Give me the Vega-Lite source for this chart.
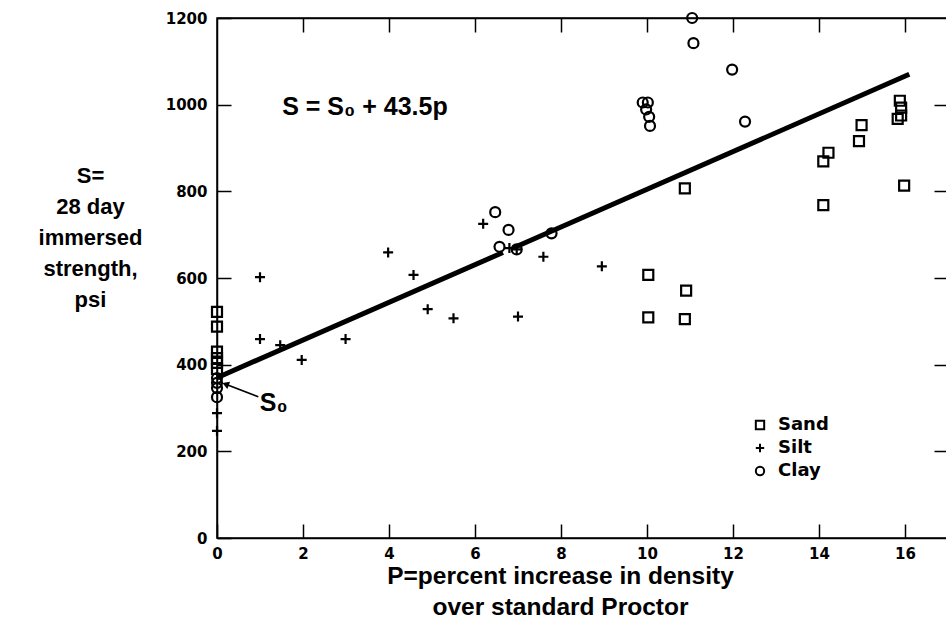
{
  "$schema": "https://vega.github.io/schema/vega-lite/v6.json",
  "width": 731,
  "height": 520,
  "autosize": {"type": "none"},
  "padding": {"left": 217, "top": 18, "right": 0, "bottom": 99},
  "background": "white",
  "config": {
    "view": {"stroke": "black", "strokeWidth": 1.5},
    "font": "Liberation Sans",
    "axis": {"grid": false, "domainColor": "black", "tickColor": "black", "domainWidth": 1.5, "tickWidth": 1.5, "labelColor": "black", "titleColor": "black"}
  },
  "datasets": {
    "pts": [
      {"p": 0, "s": 522, "type": "Sand"},
      {"p": 0, "s": 488, "type": "Sand"},
      {"p": 0, "s": 430, "type": "Sand"},
      {"p": 0, "s": 415, "type": "Sand"},
      {"p": 0, "s": 404, "type": "Sand"},
      {"p": 0, "s": 390, "type": "Sand"},
      {"p": 10.03, "s": 607, "type": "Sand"},
      {"p": 10.91, "s": 571, "type": "Sand"},
      {"p": 10.03, "s": 509, "type": "Sand"},
      {"p": 10.88, "s": 505, "type": "Sand"},
      {"p": 10.88, "s": 807, "type": "Sand"},
      {"p": 14.1, "s": 869, "type": "Sand"},
      {"p": 14.22, "s": 889, "type": "Sand"},
      {"p": 14.99, "s": 953, "type": "Sand"},
      {"p": 14.93, "s": 916, "type": "Sand"},
      {"p": 14.1, "s": 768, "type": "Sand"},
      {"p": 15.98, "s": 813, "type": "Sand"},
      {"p": 15.88, "s": 1009, "type": "Sand"},
      {"p": 15.91, "s": 993, "type": "Sand"},
      {"p": 15.91, "s": 975, "type": "Sand"},
      {"p": 15.83, "s": 967, "type": "Sand"},
      {"p": 0, "s": 288, "type": "Silt"},
      {"p": 0, "s": 247, "type": "Silt"},
      {"p": 1.0, "s": 602, "type": "Silt"},
      {"p": 1.0, "s": 459, "type": "Silt"},
      {"p": 1.47, "s": 445, "type": "Silt"},
      {"p": 1.97, "s": 411, "type": "Silt"},
      {"p": 2.99, "s": 459, "type": "Silt"},
      {"p": 3.98, "s": 659, "type": "Silt"},
      {"p": 4.57, "s": 607, "type": "Silt"},
      {"p": 4.9, "s": 528, "type": "Silt"},
      {"p": 5.5, "s": 507, "type": "Silt"},
      {"p": 6.19, "s": 725, "type": "Silt"},
      {"p": 6.8, "s": 669, "type": "Silt"},
      {"p": 6.97, "s": 666, "type": "Silt"},
      {"p": 7.0, "s": 511, "type": "Silt"},
      {"p": 7.59, "s": 649, "type": "Silt"},
      {"p": 8.95, "s": 627, "type": "Silt"},
      {"p": 0, "s": 369, "type": "Clay"},
      {"p": 0, "s": 358, "type": "Clay"},
      {"p": 0, "s": 346, "type": "Clay"},
      {"p": 0, "s": 325, "type": "Clay"},
      {"p": 6.47, "s": 752, "type": "Clay"},
      {"p": 6.78, "s": 711, "type": "Clay"},
      {"p": 6.57, "s": 672, "type": "Clay"},
      {"p": 6.97, "s": 666, "type": "Clay"},
      {"p": 7.78, "s": 703, "type": "Clay"},
      {"p": 9.9, "s": 1005, "type": "Clay"},
      {"p": 10.02, "s": 1005, "type": "Clay"},
      {"p": 9.98, "s": 989, "type": "Clay"},
      {"p": 10.05, "s": 972, "type": "Clay"},
      {"p": 10.07, "s": 951, "type": "Clay"},
      {"p": 11.05, "s": 1200, "type": "Clay"},
      {"p": 11.08, "s": 1142, "type": "Clay"},
      {"p": 11.98, "s": 1081, "type": "Clay"},
      {"p": 12.28, "s": 961, "type": "Clay"}
    ],
    "fit": [
      {"p": 0, "s": 370, "seg": "a"},
      {"p": 6.65, "s": 659, "seg": "a"},
      {"p": 6.9, "s": 670, "seg": "b"},
      {"p": 16.1, "s": 1070, "seg": "b"}
    ],
    "arrow": [
      {"p": 0.96, "s": 326},
      {"p": 0.25, "s": 353}
    ],
    "head": [
      {"p": 0.2, "s": 355}
    ],
    "labels": [
      {"p": 3.44, "s": 995, "label": "S = S₀ + 43.5p"},
      {"p": 1.32, "s": 312, "label": "S₀"}
    ]
  },
  "layer": [
    {
      "data": {"name": "fit"},
      "mark": {"type": "line", "color": "black", "strokeWidth": 5, "strokeCap": "butt"},
      "encoding": {
        "x": {"field": "p", "type": "quantitative", "scale": {"domain": [0, 17], "nice": false, "zero": false},
              "axis": {"orient": "top", "values": [2, 4, 6, 8, 10, 12, 14, 16], "labels": false, "tickSize": -14, "title": null}},
        "y": {"field": "s", "type": "quantitative", "scale": {"domain": [0, 1200], "nice": false},
              "axis": {"orient": "right", "values": [200, 400, 600, 800, 1000], "labels": false, "tickSize": -14, "title": null}},
        "detail": {"field": "seg"}
      }
    },
    {
      "data": {"name": "pts"},
      "mark": {"type": "point", "filled": false, "strokeWidth": 2.2, "color": "black", "opacity": 1, "size": 100},
      "encoding": {
        "x": {"field": "p", "type": "quantitative", "scale": {"domain": [0, 17], "nice": false, "zero": false},
              "axis": {"values": [0, 2, 4, 6, 8, 10, 12, 14, 16], "format": "d", "tickSize": -14, "labelPadding": 22, "labelFlush": false, "labelFontSize": 15, "labelFont": "DejaVu Sans", "labelFontWeight": "bold",
                       "title": ["P=percent increase in density", "over standard Proctor"], "titleFontSize": 24.5, "titleFontWeight": "bold",
                       "titleX": 343, "titleY": 26, "titleBaseline": "top", "titleAlign": "center", "titleLineHeight": 31}},
        "y": {"field": "s", "type": "quantitative", "scale": {"domain": [0, 1200], "nice": false},
              "axis": {"values": [0, 200, 400, 600, 800, 1000, 1200], "format": "d", "tickSize": -14, "labelPadding": 24, "labelFlush": false, "labelFontSize": 15, "labelFont": "DejaVu Sans", "labelFontWeight": "bold",
                       "title": ["S=", "28 day", "immersed", "strength,", "psi"], "titleFontSize": 22, "titleFontWeight": "bold", "titleAngle": 0,
                       "titleX": -127, "titleY": 147, "titleBaseline": "top", "titleAlign": "center", "titleLineHeight": 31}},
        "shape": {"field": "type", "type": "nominal",
                  "scale": {"domain": ["Sand", "Silt", "Clay"], "range": ["square", "M-1,0H1M0,-1V1", "circle"]},
                  "legend": {"title": null, "orient": "none", "legendX": 534, "legendY": 398, "labelFontSize": 18, "labelFont": "DejaVu Sans", "labelFontWeight": "bold",
                             "labelColor": "black", "symbolStrokeColor": "black", "symbolStrokeWidth": 2, "symbolSize": 70, "symbolFillColor": "transparent",
                             "rowPadding": 5, "labelOffset": 9}}
      }
    },
    {
      "data": {"name": "arrow"},
      "mark": {"type": "line", "color": "black", "strokeWidth": 1.8},
      "encoding": {
        "x": {"field": "p", "type": "quantitative", "axis": null},
        "y": {"field": "s", "type": "quantitative", "axis": null}
      }
    },
    {
      "data": {"name": "head"},
      "mark": {"type": "point", "shape": "triangle-up", "filled": true, "color": "black", "opacity": 1, "size": 60, "angle": 291},
      "encoding": {
        "x": {"field": "p", "type": "quantitative", "axis": null},
        "y": {"field": "s", "type": "quantitative", "axis": null}
      }
    },
    {
      "data": {"name": "labels"},
      "mark": {"type": "text", "fontSize": 25, "fontWeight": "bold", "color": "black", "align": "center", "baseline": "middle"},
      "encoding": {
        "x": {"field": "p", "type": "quantitative", "axis": null},
        "y": {"field": "s", "type": "quantitative", "axis": null},
        "text": {"field": "label"}
      }
    }
  ],
  "resolve": {"axis": {"x": "independent", "y": "independent"}}
}
